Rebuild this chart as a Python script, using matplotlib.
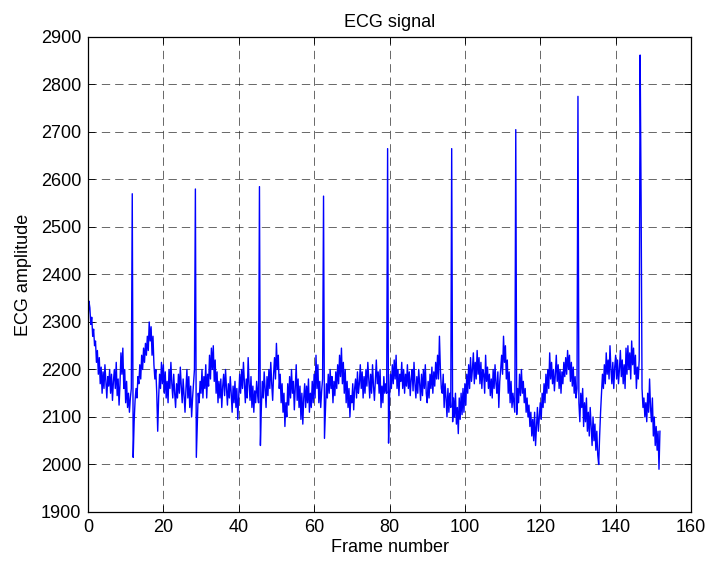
import numpy as np
import matplotlib
matplotlib.use("Agg")
import matplotlib.pyplot as plt

matplotlib.rcParams['font.family'] = ['Liberation Sans', 'DejaVu Sans']

# ECG trace, 4 samples per frame (one row = 5 frames)
SAMPLES_PER_FRAME = 4
ecg = [
    2300, 2344, 2330, 2295, 2310, 2270, 2285, 2250, 2260, 2215, 2240, 2190, 2225, 2170, 2205, 2150, 2195, 2160, 2210, 2175,
    2140, 2185, 2165, 2200, 2150, 2190, 2135, 2175, 2200, 2160, 2215, 2145, 2180, 2125, 2170, 2235, 2190, 2245, 2160, 2200,
    2130, 2175, 2120, 2150, 2110, 2140, 2160, 2570, 2015, 2090, 2135, 2160, 2140, 2185, 2170, 2210, 2180, 2230, 2200, 2245,
    2215, 2255, 2230, 2270, 2240, 2300, 2260, 2290, 2230, 2270, 2210, 2180, 2200, 2150, 2070, 2140, 2190, 2160, 2215, 2170,
    2210, 2150, 2195, 2140, 2175, 2130, 2200, 2160, 2215, 2170, 2140, 2190, 2150, 2120, 2170, 2140, 2190, 2150, 2205, 2165,
    2130, 2180, 2145, 2110, 2160, 2200, 2140, 2185, 2120, 2165, 2100, 2140, 2170, 2200, 2580, 2015, 2080, 2150, 2130, 2175,
    2150, 2200, 2140, 2185, 2160, 2210, 2140, 2190, 2165, 2230, 2180, 2245, 2200, 2250, 2175, 2220, 2150, 2195, 2130, 2175,
    2140, 2180, 2120, 2165, 2190, 2145, 2200, 2160, 2125, 2170, 2140, 2185, 2150, 2110, 2165, 2130, 2175, 2120, 2160, 2095,
    2140, 2190, 2150, 2200, 2160, 2215, 2170, 2130, 2180, 2140, 2225, 2170, 2135, 2185, 2120, 2165, 2110, 2155, 2130, 2175,
    2150, 2130, 2585, 2040, 2120, 2175, 2140, 2195, 2160, 2120, 2185, 2145, 2200, 2160, 2215, 2170, 2135, 2190, 2225, 2180,
    2255, 2200, 2230, 2160, 2190, 2130, 2170, 2110, 2150, 2080, 2130, 2100, 2170, 2125, 2185, 2140, 2200, 2150, 2175, 2115,
    2160, 2210, 2135, 2180, 2120, 2165, 2095, 2150, 2085, 2140, 2170, 2120, 2165, 2130, 2180, 2110, 2150, 2120, 2175, 2130,
    2190, 2140, 2230, 2160, 2210, 2130, 2175, 2120, 2155, 2180, 2565, 2055, 2110, 2170, 2140, 2190, 2150, 2200, 2160, 2185,
    2130, 2175, 2145, 2195, 2160, 2210, 2170, 2230, 2185, 2245, 2170, 2215, 2150, 2200, 2130, 2175, 2120, 2160, 2100, 2145,
    2130, 2170, 2115, 2160, 2180, 2140, 2195, 2150, 2170, 2210, 2160, 2195, 2140, 2185, 2150, 2200, 2165, 2215, 2180, 2140,
    2190, 2150, 2210, 2165, 2135, 2180, 2220, 2170, 2195, 2150, 2200, 2120, 2165, 2130, 2185, 2150, 2170, 2150, 2665, 2045,
    2140, 2190, 2160, 2210, 2170, 2220, 2180, 2230, 2160, 2200, 2145, 2190, 2175, 2215, 2160, 2200, 2150, 2190, 2165, 2210,
    2160, 2195, 2145, 2180, 2200, 2155, 2215, 2170, 2140, 2185, 2150, 2200, 2170, 2135, 2190, 2145, 2200, 2160, 2210, 2150,
    2130, 2175, 2140, 2190, 2160, 2205, 2150, 2195, 2165, 2215, 2180, 2230, 2180, 2270, 2200, 2160, 2150, 2190, 2120, 2170,
    2140, 2100, 2160, 2110, 2150, 2120, 2665, 2090, 2140, 2100, 2150, 2085, 2120, 2065, 2140, 2095, 2150, 2105, 2160, 2110,
    2170, 2125, 2190, 2150, 2210, 2160, 2225, 2175, 2200, 2235, 2170, 2215, 2180, 2240, 2190, 2225, 2170, 2215, 2160, 2200,
    2190, 2150, 2230, 2175, 2205, 2160, 2190, 2145, 2180, 2140, 2200, 2160, 2210, 2170, 2150, 2195, 2120, 2175, 2200, 2230,
    2190, 2270, 2215, 2250, 2180, 2220, 2150, 2195, 2130, 2175, 2120, 2150, 2130, 2110, 2705, 2105, 2160, 2130, 2190, 2145,
    2200, 2150, 2175, 2130, 2160, 2110, 2140, 2100, 2125, 2080, 2110, 2060, 2095, 2050, 2110, 2040, 2080, 2120, 2070, 2100,
    2130, 2095, 2150, 2120, 2170, 2130, 2190, 2150, 2200, 2160, 2235, 2180, 2215, 2170, 2200, 2155, 2190, 2230, 2175, 2210,
    2160, 2200, 2150, 2195, 2170, 2215, 2185, 2225, 2190, 2240, 2200, 2230, 2175, 2215, 2165, 2205, 2150, 2185, 2140, 2160,
    2775, 2130, 2090, 2150, 2120, 2160, 2080, 2130, 2090, 2140, 2070, 2110, 2060, 2120, 2080, 2040, 2100, 2050, 2085, 2030,
    2070, 2020, 2000, 2060, 2110, 2150, 2190, 2160, 2210, 2170, 2235, 2190, 2220, 2180, 2250, 2200, 2170, 2215, 2160, 2205,
    2230, 2180, 2220, 2170, 2200, 2240, 2185, 2220, 2170, 2210, 2160, 2245, 2190, 2250, 2200, 2235, 2180, 2260, 2210, 2245,
    2190, 2230, 2160, 2205, 2180, 2220, 2862, 2560, 2160, 2120, 2140, 2100, 2130, 2090, 2150, 2110, 2180, 2120, 2090, 2140,
    2060, 2100, 2040, 2080, 2030, 2070, 1990, 2070,
]

frames = np.arange(len(ecg)) / SAMPLES_PER_FRAME

fig = plt.figure(figsize=(7.06, 5.63), dpi=100)
ax = fig.add_axes([0.1246, 0.0906, 0.8542, 0.8437])

ax.plot(frames, ecg, color='#0000ff', linewidth=1.0)

ax.set_xlim(0, 160)
ax.set_ylim(1900, 2900)
ax.set_xticks(np.arange(0, 161, 20))
ax.set_yticks(np.arange(1900, 2901, 100))

# dashed grid like the classic MATLAB look
ax.grid(True, color='#222222', linestyle=(0, (10, 6)), linewidth=0.6, alpha=0.8)
ax.tick_params(direction='in', top=True, right=True, length=5, labelsize=13, width=0.6, pad=5)
for s in ax.spines.values():
    s.set_linewidth(0.9)

ax.set_xlabel('Frame number', fontsize=13, labelpad=2)
ax.set_ylabel('ECG amplitude', fontsize=13, labelpad=6)
ax.set_title('ECG signal', fontsize=13, pad=7)

fig.savefig('out.png', dpi=100)
